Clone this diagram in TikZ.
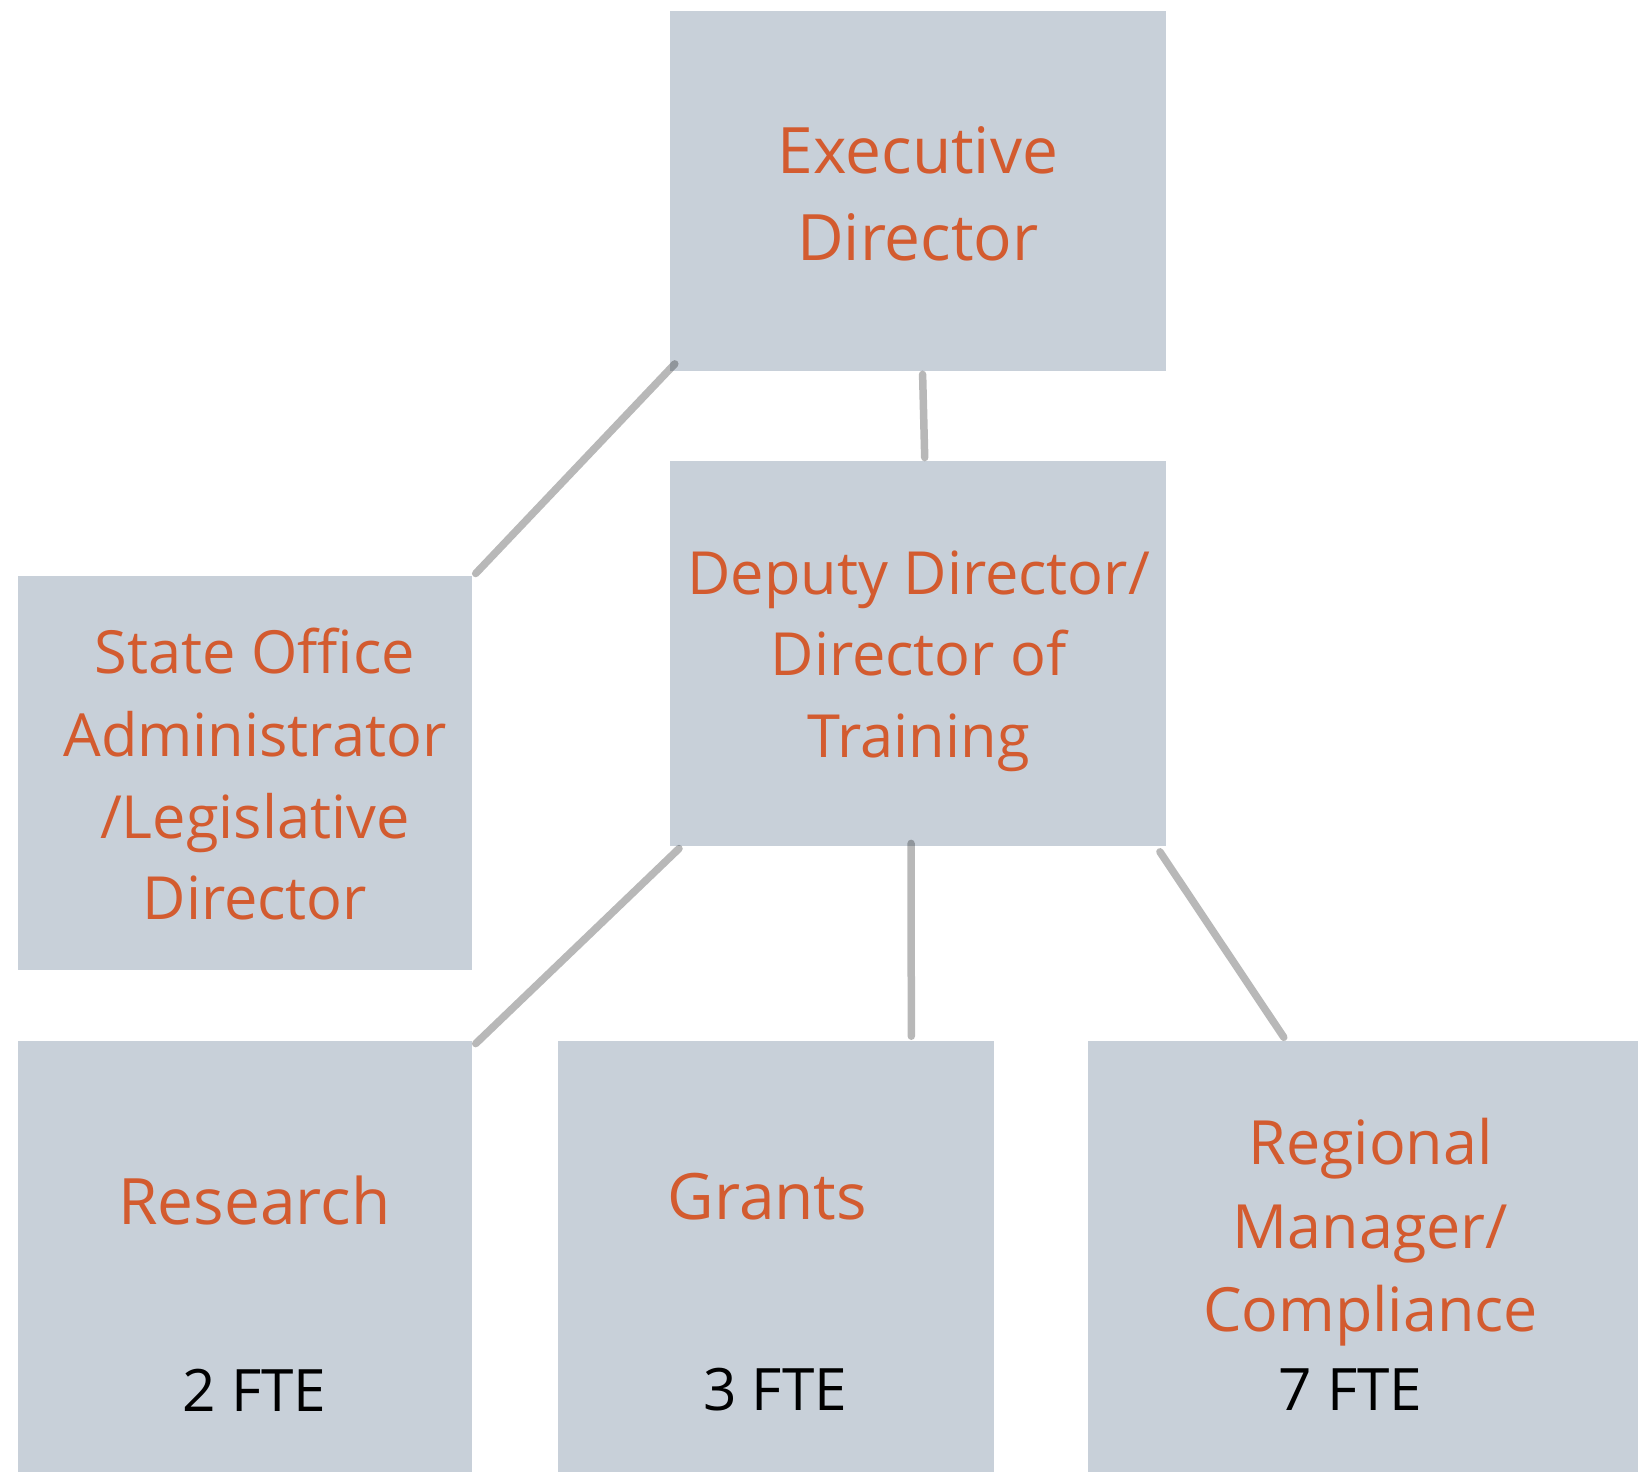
\documentclass[tikz,border=0pt]{standalone}
\usepackage{fontspec}
\setmainfont{Open Sans}
\usetikzlibrary{calc}
\definecolor{boxfill}{HTML}{C8D0D9}
\definecolor{orng}{HTML}{D35B2F}
\tikzset{
  orgbox/.style={fill=boxfill, draw=none, inner sep=0pt, anchor=north west},
  conn/.style={draw=black, draw opacity=0.28, line width=7.5pt, line cap=round},
  lbl/.style={anchor=base, inner sep=0pt, text=orng, font=\fontsize{59.5}{80}\selectfont},
  midlbl/.style={lbl, font=\fontsize{61}{80}\selectfont},
  biglbl/.style={lbl, font=\fontsize{64}{84}\selectfont},
  fte/.style={anchor=base, inner sep=0pt, text=black, font=\fontsize{58.5}{80}\selectfont}
}
\begin{document}
\begin{tikzpicture}[x=1pt,y=-1pt]
\useasboundingbox (0,0) rectangle (1638,1472);
% boxes
\node[orgbox, minimum width=496.2pt, minimum height=360.4pt] (exec) at (669.6,10.4) {};
\node[orgbox, minimum width=496.2pt, minimum height=385.4pt] (deputy) at (669.6,460.7) {};
\node[orgbox, minimum width=454.4pt, minimum height=393.8pt] (state) at (17.8,575.6) {};
\node[orgbox, minimum width=454.4pt, minimum height=431.6pt] (research) at (17.8,1040.4) {};
\node[orgbox, minimum width=435.6pt, minimum height=431.6pt] (grants) at (557.8,1040.4) {};
\node[orgbox, minimum width=550.6pt, minimum height=431.6pt] (regional) at (1087.4,1040.4) {};
% texts
\node[biglbl] (exec1) at (918,173.4) {Executive};
\node[biglbl] (exec2) at (918,260.1) {Director};
\node[lbl] (dep1) at (918.7,594.4) {Deputy Director/};
\node[lbl] (dep2) at (918.7,675.9) {Director of};
\node[lbl] (dep3) at (918.7,757.3) {Training};
\node[lbl] (st1) at (254.9,673.8) {State Office};
\node[lbl] (st2) at (254.9,756.3) {Administrator};
\node[lbl] (st3) at (254.9,838.8) {/Legislative};
\node[lbl] (st4) at (254.9,919.3) {Director};
\node[biglbl] (res1) at (254.4,1224.3) {Research};
\node[fte] (res2) at (254.4,1411.3) {2 FTE};
\node[biglbl] (gr1) at (767.3,1219) {Grants};
\node[fte] (gr2) at (775.1,1410.2) {3 FTE};
\node[midlbl] (reg1) at (1370.5,1164.7) {Regional};
\node[midlbl] (reg2) at (1370.5,1248.3) {Manager/};
\node[midlbl] (reg3) at (1370.5,1331.9) {Compliance};
\node[fte] (reg4) at (1350.7,1410.2) {7 FTE};
% connectors
\draw[conn] ($(exec.south west)+(5.2,-7.3)$) -- ($(state.north east)+(3.1,-2.1)$);
\draw[conn] ($(exec.south)+(4.7,3.2)$) -- ($(deputy.north)+(6.8,-3.2)$);
\draw[conn] ($(deputy.south west)+(9.4,2.1)$) -- ($(research.north east)+(3.1,3.2)$);
\draw[conn] ($(deputy.south)+(-6.8,-3.1)$) -- ($(grants.north east)+(-82.5,-4.2)$);
\draw[conn] ($(deputy.south east)+(-6.3,5.3)$) -- ($(regional.north west)+(196.4,-3.1)$);
\end{tikzpicture}
\end{document}
